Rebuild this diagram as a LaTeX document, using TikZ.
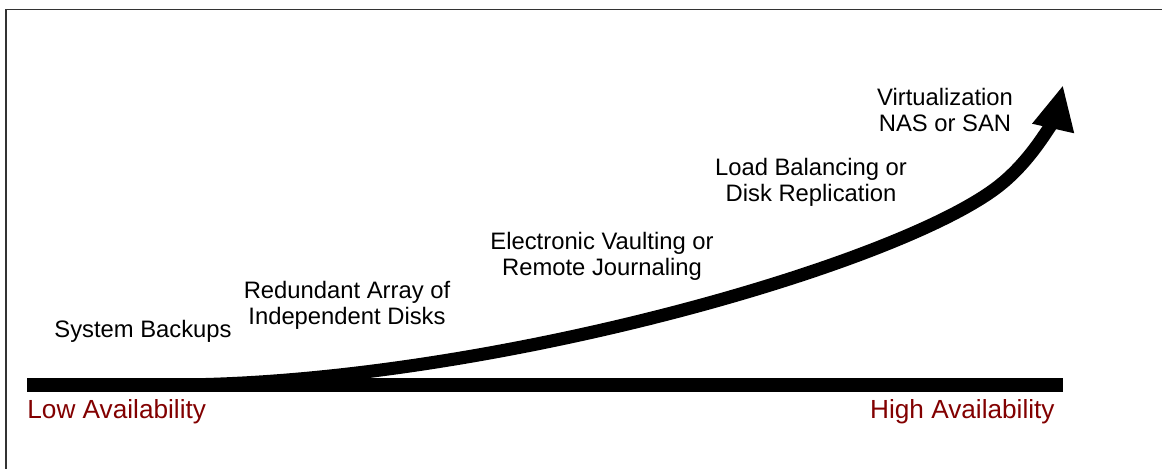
\documentclass[tikz,border=0pt]{standalone}
\usepackage{fontspec}
\setmainfont{Liberation Sans}
\usepackage{xcolor}
\usepackage{tikz}
\usetikzlibrary{arrows.meta}
\definecolor{availred}{RGB}{130,0,0}

\begin{document}
\begin{tikzpicture}[x=0.5pt, y=-0.5pt,
    lbl/.style={align=center, inner sep=0pt, font=\fontsize{11.9}{13}\selectfont},
    avail/.style={inner sep=0pt, text=availred, font=\fontsize{13.1}{15}\selectfont},
    availbar/.style={line width=7pt},
    growth/.style={line width=6.5pt, -{Triangle[length=22.3pt,width=19.8pt]}}]
    \useasboundingbox (0,0) rectangle (1162,468);
    \begin{scope}
    \clip (0,0) rectangle (1162,468);
    \draw[black!80, line width=0.7pt] (6,9.5) rectangle (1180,480);
    \end{scope}

    \coordinate (bl) at (27,385);
    \coordinate (br) at (1063,385);
    \coordinate (cs) at (170,385);
    \coordinate (cm) at (1000,185);
    \coordinate (ct) at (1063,85);
    \draw[availbar] (bl) -- (br);
    \draw[growth] (cs) .. controls (480,385) and (900,265) .. (cm)
        .. controls (1040,153) and (1058,107) .. (ct);

    \node[lbl] (sb) at (143,331) {System Backups};
    \node[lbl] (raid) at (347,305) {Redundant Array of\\Independent Disks};
    \node[lbl] (ev) at (602,256) {Electronic Vaulting or\\Remote Journaling};
    \node[lbl] (lb) at (811,182) {Load Balancing or\\Disk Replication};
    \node[lbl] (virt) at (945,110) {Virtualization\\NAS or SAN};

    \node[avail, anchor=west] (low) at (27,412) {Low Availability};
    \node[avail, anchor=east] (high) at (1055,412) {High Availability};
\end{tikzpicture}
\end{document}
